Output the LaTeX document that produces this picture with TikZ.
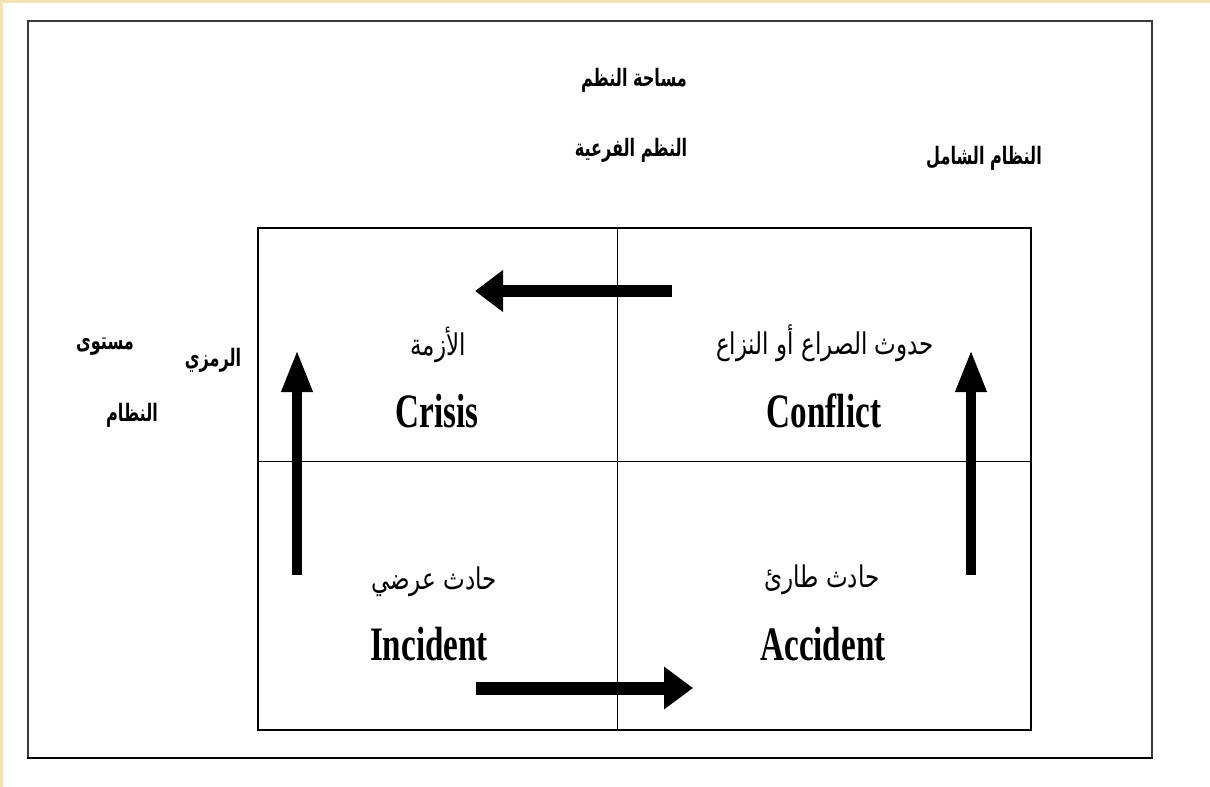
\documentclass[tikz,border=0pt]{standalone}
\usepackage{fontspec}
\usepackage{graphicx}
\setmainfont{Liberation Serif}
\newfontfamily\arabicfont[Script=Arabic]{DejaVu Sans}
\TeXXeTstate=1
\usetikzlibrary{arrows.meta}
\definecolor{cream}{HTML}{F5E3B8}
\definecolor{framegray}{HTML}{3A3A3A}
\newcommand{\artxt}[1]{\scalebox{1}[1.3]{\beginR #1\endR}}
\newcommand{\artxtb}[1]{\scalebox{0.87}[1.3]{\beginR #1\endR}}
\begin{document}
\begin{tikzpicture}[x=1pt,y=-1pt,
  ar/.style={font=\arabicfont\fontsize{23}{23}\selectfont, inner sep=0pt},
  arb/.style={font=\arabicfont\bfseries\fontsize{18.5}{18.5}\selectfont, inner sep=0pt},
  en/.style={font=\bfseries\fontsize{48}{48}\selectfont, anchor=base, inner sep=0pt},
  harrow/.style={line width=12pt, -{Triangle[length=28pt,width=40pt]}},
  varrow/.style={line width=9.5pt, -{Triangle[length=42pt,width=29pt]}}
]
\useasboundingbox (0,0) rectangle (1210,787);
\fill[white] (0,0) rectangle (1210,787);
\fill[cream] (0,0) rectangle (1210,2.5);
\fill[cream] (0,0) rectangle (2.5,787);
% outer frame
\draw[framegray, line width=2pt] (28,758) -- (28,21) -- (1152,21) -- (1152,758);
\draw[black, line width=2pt] (27,758) -- (1153,758);
% inner grid
\draw[line width=1.5pt] (258,228) rectangle (1031,730);
\draw[line width=1pt] (617,228) -- (617,730);
\draw[line width=1pt] (258,461) -- (1031,461);
% outer labels
\node[arb] (t1) at (634,80) {\artxtb{مساحة النظم}};
\node[arb] (t2) at (631,150) {\artxtb{النظم الفرعية}};
\node[arb] (t3) at (984,158) {\artxtb{النظام الشامل}};
\node[arb] (l1) at (105,347) {\artxtb{مستوى}};
\node[arb] (l2) at (213,360) {\artxtb{الرمزي}};
\node[arb] (l3) at (132,415) {\artxtb{النظام}};
% quadrant labels
\node[ar] (qa1) at (438,345) {\artxt{الأزمة}};
\node[en] (qe1) at (437,427) {\scalebox{0.69}[1]{Crisis}};
\node[ar] (qa2) at (825,343) {\artxt{حدوث الصراع أو النزاع}};
\node[en] (qe2) at (824,427) {\scalebox{0.69}[1]{Conflict}};
\node[ar] (qa3) at (434,582) {\artxt{حادث عرضي}};
\node[en] (qe3) at (429,660) {\scalebox{0.69}[1]{Incident}};
\node[ar] (qa4) at (822,580) {\artxt{حادث طارئ}};
\node[en] (qe4) at (823,660) {\scalebox{0.69}[1]{Accident}};
% arrows
\coordinate (a1s) at (672,291);
\coordinate (a1e) at (475,291);
\coordinate (a2s) at (297,575);
\coordinate (a2e) at (297,350);
\coordinate (a3s) at (476,688);
\coordinate (a3e) at (693,688);
\coordinate (a4s) at (971,575);
\coordinate (a4e) at (971,350);
\draw[harrow] (a1s) -- (a1e);
\draw[varrow] (a2s) -- (a2e);
\draw[harrow, line width=13pt, -{Triangle[length=29pt,width=41pt]}] (a3s) -- (a3e);
\draw[varrow] (a4s) -- (a4e);
\end{tikzpicture}
\end{document}
